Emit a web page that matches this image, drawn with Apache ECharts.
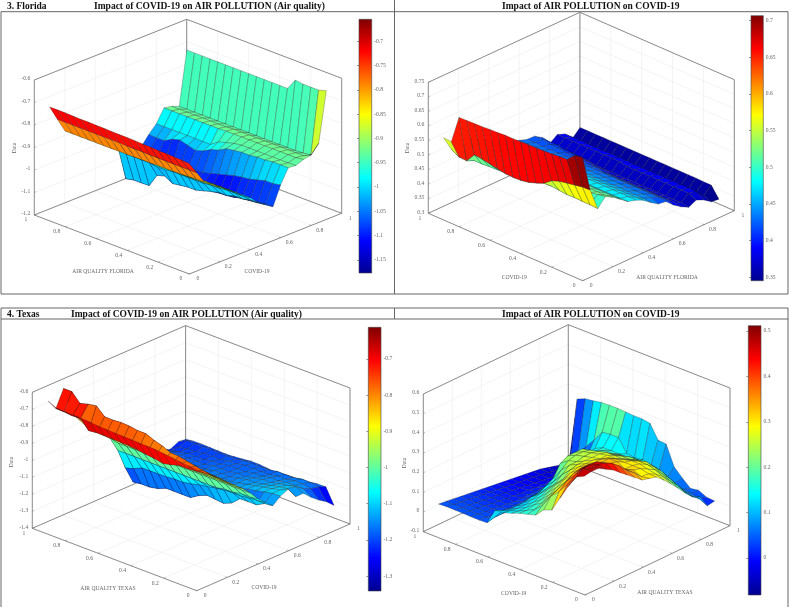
<!DOCTYPE html>
<html>
<head>
<meta charset="utf-8">
<style type="text/css">
    html, body { margin: 0; padding: 0; background: #fff; }
    #main { width: 789px; height: 609px; filter: blur(0.35px); }
</style>
<script src="https://cdn.jsdelivr.net/npm/echarts@6/dist/echarts.min.js"></script>
</head>
<body>
<div id="main"></div>
<script type="text/javascript">
// quantile grid shared by all four surfaces
var quantiles = [0.05,0.1,0.15,0.2,0.25,0.3,0.35,0.4,0.45,0.5,0.55,0.6,0.65,0.7,0.75,0.8,0.85,0.9,0.95];
var floorTicks = [0,0.2,0.4,0.6,0.8,1];

// each row is one x quantile, values run along y quantile 0.05 .. 0.95
var floridaAirZ = [
[-.735,-.733,-.732,-.73,-.73,-.728,-.727,-.726,-.725,-.725,-.724,-.723,-.723,-.722,-.722,-.721,-.72,-.72,-.72],
[-.79,-.79,-.79,-.79,-.79,-.79,-.79,-.789,-.789,-.789,-.788,-.788,-.788,-.788,-.788,-.788,-.788,-.788,-.788],
[-.845,-.846,-.847,-.848,-.849,-.85,-.85,-.851,-.851,-.852,-.852,-.852,-.853,-.853,-.853,-.853,-.853,-.853,-.853],
[-.868,-.868,-.869,-.869,-.87,-.87,-.87,-.87,-.87,-.87,-.87,-.87,-.87,-.87,-.87,-.87,-.87,-.87,-.87],
[-.897,-.898,-.9,-.9,-.9,-.9,-.9,-.9,-.9,-.9,-.9,-.9,-.9,-.9,-.9,-.9,-.9,-.89,-.89],
[-.92,-.92,-.92,-.92,-.92,-.925,-.925,-.925,-.925,-.925,-.925,-.925,-.925,-.925,-.925,-.92,-.92,-.92,-.92],
[-.945,-.945,-.945,-.945,-.95,-.95,-.95,-.95,-.95,-.95,-.95,-.95,-.95,-.95,-.95,-.95,-.95,-.95,-.95],
[-.97,-.97,-.97,-.97,-.975,-.975,-.975,-.98,-.98,-.98,-.98,-.98,-.98,-.98,-.98,-.975,-.975,-.97,-.97],
[-.995,-1,-1,-1,-1.005,-1.005,-1.01,-1.01,-1.01,-1.01,-1.01,-1.015,-1.015,-1.01,-1.01,-1.01,-1.01,-1,-.99],
[-1.03,-1.03,-1.04,-1.04,-1.05,-1.05,-1.06,-1.07,-1.08,-1.08,-1.085,-1.09,-1.07,-1.08,-1.138,-1.14,-1.14,-1.148,-1.01],
[-1.05,-1.055,-1.06,-1.065,-1.07,-1.07,-1.08,-1.08,-1.08,-1.08,-1.08,-1.08,-1.08,-1.06,-1.06,-1.06,-1.06,-1.05,-1.03],
[-1.076,-1.08,-1.085,-1.088,-1.09,-1.1,-1.105,-1.105,-1.1,-1.09,-1.09,-1.09,-1.08,-1.08,-1.08,-1.08,-1.07,-1.06,-1.05],
[-.993,-1,-1,-1.01,-1.02,-1.024,-1.03,-1.04,-1.05,-1.06,-1.07,-1.07,-1.08,-1.08,-1.09,-1.09,-1.08,-1.07,-1.06],
[-.93,-.93,-.93,-.935,-.935,-.94,-.94,-.945,-.95,-.97,-.98,-1,-1.01,-1,-.99,-1,-1.02,-1.02,-1.018],
[-.933,-.935,-.935,-.935,-.935,-.935,-.935,-.935,-.94,-.95,-.96,-.984,-.984,-.984,-.984,-.984,-.984,-.984,-.984],
[-.92,-.925,-.925,-.925,-.925,-.925,-.925,-.925,-.925,-.925,-.925,-.927,-.927,-.927,-.927,-.927,-.927,-.927,-.927],
[-.914,-.93,-.93,-.93,-.93,-.93,-.93,-.93,-.93,-.93,-.93,-.933,-.933,-.933,-.933,-.933,-.933,-.933,-.933],
[-.875,-.94,-.945,-.947,-.947,-.947,-.947,-.947,-.947,-.947,-.947,-.947,-.947,-.947,-.947,-.947,-.947,-.947,-.947],
[-.655,-.665,-.665,-.665,-.66,-.71,-.71,-.71,-.71,-.71,-.71,-.71,-.71,-.71,-.71,-.71,-.71,-.71,-.71]
];
var floridaCovidZ = [
[.70,.695,.67,.668,.666,.664,.663,.662,.661,.66,.66,.658,.657,.655,.654,.653,.652,.557,.559],
[.576,.575,.57,.565,.56,.55,.53,.519,.51,.505,.504,.505,.51,.515,.52,.523,.491,.493,.508],
[.50,.502,.502,.503,.502,.505,.508,.508,.50,.49,.486,.485,.485,.483,.482,.48,.48,.475,.47],
[.529,.525,.52,.52,.52,.52,.52,.52,.52,.52,.52,.52,.52,.52,.52,.52,.52,.52,.52],
[.515,.51,.51,.51,.51,.51,.51,.51,.51,.51,.51,.51,.51,.51,.51,.51,.51,.51,.51],
[.496,.495,.495,.495,.495,.495,.495,.495,.495,.495,.495,.495,.495,.495,.495,.495,.495,.495,.495],
[.476,.475,.475,.475,.475,.475,.475,.475,.475,.475,.475,.475,.475,.475,.475,.475,.475,.475,.475],
[.469,.47,.47,.47,.47,.47,.47,.465,.465,.465,.465,.465,.465,.465,.465,.465,.465,.465,.465],
[.457,.455,.455,.455,.455,.455,.455,.455,.455,.455,.455,.455,.455,.455,.455,.455,.455,.455,.455],
[.437,.44,.44,.44,.44,.44,.44,.44,.44,.44,.44,.44,.44,.44,.44,.44,.44,.44,.44],
[.42,.43,.43,.43,.43,.43,.43,.43,.43,.43,.43,.43,.43,.43,.43,.43,.43,.43,.43],
[.416,.42,.42,.42,.42,.42,.42,.42,.42,.42,.42,.42,.42,.42,.42,.42,.42,.421,.421],
[.392,.40,.40,.40,.40,.40,.40,.40,.40,.40,.405,.405,.41,.41,.41,.415,.415,.42,.42],
[.374,.38,.38,.38,.38,.38,.38,.38,.38,.38,.385,.385,.39,.39,.395,.395,.40,.40,.404],
[.36,.365,.365,.365,.365,.365,.365,.365,.365,.365,.365,.365,.365,.37,.37,.37,.37,.37,.371],
[.373,.385,.385,.385,.385,.385,.385,.385,.385,.385,.39,.39,.39,.39,.39,.39,.39,.39,.39],
[.361,.38,.38,.38,.38,.38,.38,.38,.38,.38,.38,.38,.38,.38,.38,.38,.38,.38,.38],
[.343,.352,.352,.352,.352,.352,.352,.352,.352,.352,.352,.352,.352,.352,.352,.352,.352,.353,.353],
[.34,.377,.377,.378,.378,.378,.378,.378,.378,.378,.378,.378,.378,.378,.378,.378,.378,.378,.378]
];
var texasAirZ = [
[-.725,-.722,-.716,-.709,-.704,-.698,-.697,-.696,-.694,-.693,-.692,-.69,-.688,-.683,-.681,-.68,-.679,-.677,-.653],
[-.765,-.77,-.775,-.775,-.79,-.80,-.79,-.785,-.777,-.772,-.771,-.769,-.768,-.767,-.773,-.72,-.722,-.717,-.716],
[-.797,-.79,-.78,-.77,-.76,-.757,-.735,-.72,-.70,-.70,-.692,-.69,-.694,-.692,-.647,-.655,-.669,-.618,-.618],
[-.836,-.832,-.83,-.82,-.82,-.82,-.81,-.80,-.80,-.80,-.79,-.79,-.79,-.79,-.78,-.78,-.78,-.78,-.78],
[-.875,-.875,-.87,-.87,-.87,-.87,-.86,-.86,-.86,-.86,-.85,-.85,-.85,-.85,-.84,-.84,-.84,-.84,-.84],
[-.915,-.915,-.91,-.91,-.91,-.91,-.91,-.91,-.91,-.91,-.91,-.91,-.90,-.90,-.90,-.90,-.90,-.90,-.90],
[-.954,-.955,-.955,-.955,-.955,-.955,-.955,-.955,-.955,-.955,-.955,-.955,-.95,-.95,-.95,-.95,-.95,-.95,-.95],
[-.999,-1,-1,-1,-1,-1,-1,-1,-1,-1,-1,-1,-1,-1,-1,-1,-1,-.99,-.98],
[-1.052,-1.06,-1.06,-1.07,-1.07,-1.08,-1.08,-1.08,-1.08,-1.08,-1.08,-1.08,-1.08,-1.08,-1.08,-1.08,-1.08,-1.08,-1],
[-1.095,-1.10,-1.105,-1.11,-1.11,-1.114,-1.12,-1.13,-1.138,-1.15,-1.16,-1.16,-1.164,-1.165,-1.166,-1.167,-1.19,-1.204,-1.035],
[-1.134,-1.14,-1.165,-1.165,-1.166,-1.21,-1.23,-1.225,-1.22,-1.24,-1.27,-1.27,-1.27,-1.27,-1.29,-1.30,-1.30,-1.306,-1.078],
[-1.097,-1.10,-1.11,-1.12,-1.13,-1.14,-1.15,-1.15,-1.15,-1.16,-1.16,-1.16,-1.16,-1.16,-1.16,-1.16,-1.15,-1.14,-1.118],
[-1.077,-1.10,-1.11,-1.12,-1.13,-1.14,-1.15,-1.16,-1.16,-1.16,-1.17,-1.17,-1.17,-1.17,-1.17,-1.17,-1.17,-1.16,-1.157],
[-1.14,-1.11,-1.12,-1.13,-1.14,-1.15,-1.15,-1.16,-1.17,-1.17,-1.17,-1.18,-1.18,-1.18,-1.18,-1.18,-1.18,-1.18,-1.196],
[-1.14,-1.12,-1.13,-1.14,-1.15,-1.15,-1.16,-1.17,-1.17,-1.18,-1.18,-1.18,-1.19,-1.19,-1.19,-1.19,-1.19,-1.19,-1.235],
[-1.183,-1.15,-1.15,-1.15,-1.16,-1.16,-1.17,-1.17,-1.18,-1.18,-1.18,-1.19,-1.19,-1.20,-1.20,-1.20,-1.21,-1.22,-1.25],
[-1.219,-1.17,-1.16,-1.16,-1.17,-1.17,-1.18,-1.18,-1.18,-1.18,-1.19,-1.19,-1.20,-1.20,-1.20,-1.21,-1.21,-1.22,-1.247],
[-1.248,-1.18,-1.17,-1.17,-1.18,-1.18,-1.18,-1.19,-1.19,-1.19,-1.19,-1.20,-1.20,-1.20,-1.20,-1.20,-1.20,-1.20,-1.225],
[-1.29,-1.198,-1.2,-1.21,-1.212,-1.215,-1.22,-1.224,-1.22,-1.215,-1.214,-1.22,-1.225,-1.228,-1.227,-1.226,-1.224,-1.225,-1.23]
];
var texasCovidZ = [
[.47,.45,.385,.31,.234,.218,.176,.164,.153,.137,.124,.12,.041,.038,.039,.04,.041,.042,.039],
[.476,.476,.41,.36,.31,.27,.21,.17,.15,.13,.115,.10,.05,.035,.035,.035,.035,.035,.035],
[.475,.46,.44,.39,.344,.29,.236,.186,.16,.13,.11,.09,.05,.03,.03,.03,.03,.03,.03],
[.453,.46,.44,.41,.35,.30,.25,.21,.17,.14,.11,.09,.05,.03,.025,.025,.025,.025,.025],
[.431,.45,.44,.41,.37,.33,.27,.23,.19,.15,.12,.09,.05,.025,.02,.02,.02,.02,.02],
[.40,.43,.41,.39,.37,.34,.29,.25,.21,.17,.13,.10,.05,.025,.015,.015,.015,.015,.015],
[.37,.40,.39,.37,.355,.335,.30,.27,.22,.18,.14,.10,.06,.025,.01,.01,.01,.01,.01],
[.34,.36,.352,.345,.335,.33,.305,.28,.25,.21,.16,.12,.07,.03,.01,.005,.005,.005,.005],
[.31,.33,.33,.32,.33,.32,.30,.28,.26,.24,.20,.14,.08,.03,.01,0,0,0,0],
[.30,.293,.31,.30,.32,.32,.30,.28,.26,.24,.23,.20,.09,.04,.01,0,-.005,-.005,-.005],
[.29,.29,.30,.30,.30,.30,.29,.27,.26,.25,.24,.22,.10,.05,.01,-.005,-.01,-.01,-.01],
[.257,.27,.28,.29,.29,.28,.27,.27,.26,.25,.24,.22,.11,.06,.015,-.01,-.015,-.015,-.015],
[.219,.24,.26,.27,.27,.26,.25,.25,.25,.24,.23,.22,.13,.07,.02,-.01,-.02,-.02,-.02],
[.18,.20,.22,.24,.25,.24,.23,.23,.22,.21,.20,.19,.15,.09,.03,-.01,-.025,-.025,-.025],
[.136,.16,.18,.20,.21,.21,.21,.21,.20,.19,.18,.17,.15,.10,.04,-.005,-.03,-.03,-.03],
[.10,.11,.13,.15,.17,.17,.18,.18,.17,.17,.16,.16,.14,.11,.05,0,-.03,-.04,-.04],
[.084,.07,.08,.09,.11,.12,.13,.14,.14,.13,.14,.14,.14,.12,.06,.01,-.03,-.05,-.05],
[.02,.04,.05,.056,.07,.08,.10,.11,.125,.12,.125,.19,.19,.185,.13,.08,.03,-.05,-.06],
[.027,.03,.05,.043,.08,.12,.22,.224,.293,.30,.30,.303,.305,.305,.303,.295,.29,.272,-.058]
];

var floridaAirTicks = [-1.2,-1.1,-1,-0.9,-0.8,-0.7,-0.6];
var floridaCovidTicks = [0.3,0.35,0.4,0.45,0.5,0.55,0.6,0.65,0.7,0.75];
var texasAirTicks = [-1.4,-1.3,-1.2,-1.1,-1,-0.9,-0.8,-0.7,-0.6];
var texasCovidTicks = [-0.1,0,0.1,0.2,0.3,0.4,0.5,0.6];

var floridaAirBar = [-1.15,-1.1,-1.05,-1,-0.95,-0.9,-0.85,-0.8,-0.75,-0.7];
var floridaCovidBar = [0.35,0.4,0.45,0.5,0.55,0.6,0.65,0.7];
var texasAirBar = [-1.3,-1.2,-1.1,-1,-0.9,-0.8,-0.7];
var texasCovidBar = [0,0.1,0.2,0.3,0.4,0.5];

var jet = ['#00008f','#0000ff','#007fff','#00ffff','#7fff7f','#ffff00','#ff7f00','#ff0000','#7f0000'];
var serif = '"Liberation Serif", serif';

var panels = [
    {z: floridaAirZ, ticks: floridaAirTicks, bar: floridaAirBar, cmin: -1.177, cmax: -0.655,
     F: [189.3,274], L: [34.3,215], R: [341.7,213.3], H: 135,
     barBox: [359,19.3,12.7,253.7], left: 'AIR QUALITY FLORIDA', right: 'COVID-19',
     leftAt: [103,272], rightAt: [257,272], dataAt: [14.7,148]},
    {z: floridaCovidZ, ticks: floridaCovidTicks, bar: floridaCovidBar, cmin: 0.3454, cmax: 0.7068,
     F: [582.7,280.7], L: [428.3,213.3], R: [734.3,210.7], H: 131,
     barBox: [751,15.7,12.3,265], left: 'COVID-19', right: 'AIR QUALITY FLORIDA',
     leftAt: [514.3,278], rightAt: [667,278], dataAt: [408,148]},
    {z: texasAirZ, ticks: texasAirTicks, bar: texasAirBar, cmin: -1.341, cmax: -0.613,
     F: [196.7,590.7], L: [32.3,528.3], R: [350,524], H: 136,
     barBox: [368.3,327.3,12.7,263.7], left: 'AIR QUALITY TEXAS', right: 'COVID-19',
     leftAt: [108,589], rightAt: [264,588], dataAt: [12,462]},
    {z: texasCovidZ, ticks: texasCovidTicks, bar: texasCovidBar, cmin: -0.0815, cmax: 0.5117,
     F: [585,595], L: [423.3,531.7], R: [730,525.7], H: 137.7,
     barBox: [748.3,325.7,12.7,269.3], left: 'COVID-19', right: 'AIR QUALITY TEXAS',
     leftAt: [513.7,594], rightAt: [665,592.7], dataAt: [404.3,463]}
];

function project(p, x, y, z) {
    var lo = p.ticks[0], hi = p.ticks[p.ticks.length - 1];
    return [
        p.F[0] + x * (p.R[0] - p.F[0]) + y * (p.L[0] - p.F[0]),
        p.F[1] + x * (p.R[1] - p.F[1]) + y * (p.L[1] - p.F[1]) - (z - lo) / (hi - lo) * p.H
    ];
}

function jetColor(v, p) {
    var t = (v - p.cmin) / (p.cmax - p.cmin);
    return echarts.color.lerp(Math.max(0, Math.min(1, t)), jet);
}

function boxRender(p) {
    return function (params, api) {
        var lo = p.ticks[0], hi = p.ticks[p.ticks.length - 1];
        var kids = [];
        function line(a, b, color, w) {
            var s = api.coord(project(p, a[0], a[1], a[2]));
            var e = api.coord(project(p, b[0], b[1], b[2]));
            kids.push({type: 'line', shape: {x1: s[0], y1: s[1], x2: e[0], y2: e[1]}, style: {stroke: color, lineWidth: w}});
        }
        function text(str, a, dx, dy, align, rotate) {
            var s = api.coord(a);
            kids.push({type: 'text', x: s[0] + dx, y: s[1] + dy, rotation: rotate || 0, style: {
                text: str, fill: '#666', font: '5.6px ' + serif, align: align || 'center', verticalAlign: 'middle'}});
        }
        var grid = '#e8e8e8', edge = '#808080';
        floorTicks.forEach(function (t) {
            line([t,0,lo],[t,1,lo],grid,0.5);
            line([0,t,lo],[1,t,lo],grid,0.5);
            line([t,1,lo],[t,1,hi],grid,0.5);
            line([1,t,lo],[1,t,hi],grid,0.5);
        });
        p.ticks.forEach(function (z) {
            line([0,1,z],[1,1,z],grid,0.5);
            line([1,0,z],[1,1,z],grid,0.5);
            line([0,1,z],[0.012,1,z],edge,0.5);
            text(String(z), project(p,0,1,z), -4, -1, 'right');
        });
        floorTicks.forEach(function (t) {
            line([t,0,lo],[t,0.012,lo],edge,0.5);
            line([0,t,lo],[0.012,t,lo],edge,0.5);
            text(String(t), project(p,t,0,lo), 8.5, 5);
            text(String(t), project(p,0,t,lo), -8.5, 5);
        });
        [[[0,1,lo],[0,0,lo]],[[0,0,lo],[1,0,lo]],[[0,1,lo],[1,1,lo]],[[1,0,lo],[1,1,lo]],
         [[0,1,lo],[0,1,hi]],[[1,0,lo],[1,0,hi]],[[1,1,lo],[1,1,hi]],
         [[0,1,hi],[1,1,hi]],[[1,0,hi],[1,1,hi]]].forEach(function (e) {
            line(e[0], e[1], edge, 0.9);
        });
        text(p.left, p.leftAt, 0, 0);
        text(p.right, p.rightAt, 0, 0);
        text('Data', p.dataAt, 0, 0, 'center', Math.PI / 2);
        return {type: 'group', children: kids};
    };
}

function surfaceRender(p) {
    return function (params, api) {
        var i = api.value(0), j = api.value(1);
        function pt(a, b) {
            return api.coord(project(p, quantiles[a], quantiles[b], p.z[a][b]));
        }
        return {
            type: 'polygon',
            shape: {points: [pt(i,j), pt(i + 1,j), pt(i + 1,j + 1), pt(i,j + 1)]},
            style: {fill: jetColor(p.z[i][j], p), stroke: 'rgba(25,25,25,0.6)', lineWidth: 0.45}
        };
    };
}

function cellsFarToNear() {
    var cells = [];
    for (var i = 0; i < quantiles.length - 1; i++) {
        for (var j = 0; j < quantiles.length - 1; j++) {
            cells.push([i, j]);
        }
    }
    cells.sort(function (a, b) { return (b[0] + b[1]) - (a[0] + a[1]); });
    return cells;
}

var grids = [{left: 0, top: 0, width: 789, height: 609}];
var xAxes = [{type: 'value', gridIndex: 0, min: 0, max: 789, show: false}];
var yAxes = [{type: 'value', gridIndex: 0, min: 0, max: 609, inverse: true, show: false}];
var series = [];

panels.forEach(function (p, n) {
    series.push({type: 'custom', xAxisIndex: 0, yAxisIndex: 0, clip: false, silent: true,
        data: [[0,0]], renderItem: boxRender(p)});
    series.push({type: 'custom', xAxisIndex: 0, yAxisIndex: 0, clip: false, silent: true, progressive: 0,
        data: cellsFarToNear(), renderItem: surfaceRender(p)});

    // colour bar: own grid, real value axis for its labels
    grids.push({left: p.barBox[0], top: p.barBox[1], width: p.barBox[2], height: p.barBox[3]});
    xAxes.push({type: 'value', gridIndex: n + 1, min: 0, max: 1, show: false});
    yAxes.push({
        type: 'value', gridIndex: n + 1, position: 'right', min: p.cmin, max: p.cmax,
        axisLine: {show: false}, splitLine: {show: false},
        axisTick: {show: true, inside: true, length: 2, customValues: p.bar, lineStyle: {color: '#333', width: 0.5}},
        axisLabel: {show: true, customValues: p.bar, margin: 2.5, color: '#666', fontFamily: serif, fontSize: 5.6,
            formatter: function (v) { return String(v); }}
    });
    series.push({type: 'custom', xAxisIndex: n + 1, yAxisIndex: n + 1, clip: false, silent: true,
        data: [[0, p.cmin, 1, p.cmax]],
        renderItem: function (params, api) {
            var a = api.coord([api.value(0), api.value(3)]);
            var b = api.coord([api.value(2), api.value(1)]);
            return {type: 'rect', shape: {x: a[0], y: a[1], width: b[0] - a[0], height: b[1] - a[1]},
                style: {stroke: '#444', lineWidth: 0.6, fill: new echarts.graphic.LinearGradient(0, 1, 0, 0,
                    jet.map(function (c, k) { return {offset: k / (jet.length - 1), color: c}; }))}};
        }});
});

function rule(x1, y1, x2, y2) {
    return {type: 'line', shape: {x1: x1, y1: y1, x2: x2, y2: y2}, style: {stroke: '#555', lineWidth: 0.9}, silent: true};
}
function heading(str, x, y) {
    return {type: 'text', x: x, y: y, silent: true, style: {text: str, fill: '#111',
        font: 'bold 9.5px ' + serif, verticalAlign: 'middle'}};
}

var chart = echarts.init(document.getElementById('main'));
chart.setOption({
    animation: false,
    backgroundColor: '#fff',
    grid: grids,
    xAxis: xAxes,
    yAxis: yAxes,
    series: series,
    graphic: [
        rule(1,11.7,788,11.7), rule(1,11.7,1,294), rule(1,294,788,294), rule(788,11.7,788,294), rule(394.5,0,394.5,294),
        rule(1,308,788,308), rule(1,319,788,319), rule(1,308,1,607), rule(788,308,788,607), rule(394.5,308,394.5,319),
        heading('3. Florida', 7, 7),
        heading('Impact of COVID-19 on AIR POLLUTION (Air quality)', 94, 7),
        heading('Impact of AIR POLLUTION on COVID-19', 502, 7),
        heading('4. Texas', 7, 314.5),
        heading('Impact of COVID-19 on AIR POLLUTION (Air quality)', 71, 314.5),
        heading('Impact of AIR POLLUTION on COVID-19', 502, 314.5)
    ]
});
</script>
</body>
</html>
